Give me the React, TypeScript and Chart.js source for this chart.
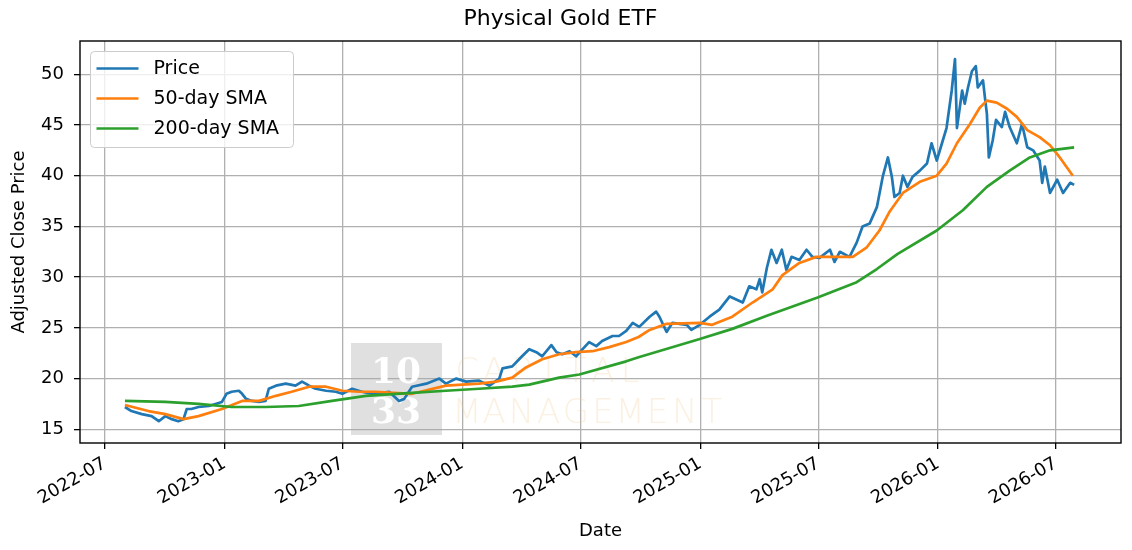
import React, { useEffect, useRef } from 'react';
import { Chart, registerables } from 'chart.js';

Chart.register(...registerables);

const chartTitle = 'Physical Gold ETF';
const xAxisTitle = 'Date';
const yAxisTitle = 'Adjusted Close Price';
const seriesLabels = ['Price', '50-day SMA', '200-day SMA'];
const seriesColors = ['#1f77b4', '#ff7f0e', '#2ca02c'];

const xTickLabels = ['2022-07', '2023-01', '2023-07', '2024-01', '2024-07', '2025-01', '2025-07', '2026-01', '2026-07'];
const yTickValues = [15, 20, 25, 30, 35, 40, 45, 50];
const xRange = ['2022-05-24', '2026-10-09'];
const yRange = [13.65, 53.28];

const watermarkBadge = ['10', '33'];
const watermarkWords = ['CAPITAL', 'MANAGEMENT'];

const priceDates = [
  '2022-08-01', '2022-08-11', '2022-08-27', '2022-09-11', '2022-09-22', '2022-10-02', '2022-10-12', '2022-10-22',
  '2022-10-30', '2022-11-04', '2022-11-11', '2022-11-22', '2022-12-08', '2022-12-18', '2022-12-28', '2023-01-04',
  '2023-01-12', '2023-01-23', '2023-01-28', '2023-02-03', '2023-02-12', '2023-02-23', '2023-03-05', '2023-03-10',
  '2023-03-21', '2023-04-05', '2023-04-20', '2023-04-30', '2023-05-11', '2023-05-21', '2023-06-06', '2023-06-21',
  '2023-07-01', '2023-07-16', '2023-07-31', '2023-08-16', '2023-09-11', '2023-09-26', '2023-10-04', '2023-10-16',
  '2023-11-07', '2023-11-27', '2023-12-07', '2023-12-23', '2024-01-07', '2024-01-27', '2024-02-12', '2024-02-27',
  '2024-03-03', '2024-03-18', '2024-04-02', '2024-04-13', '2024-04-24', '2024-05-03', '2024-05-17', '2024-05-25',
  '2024-06-03', '2024-06-14', '2024-06-24', '2024-07-04', '2024-07-14', '2024-07-25', '2024-08-03', '2024-08-19',
  '2024-08-29', '2024-09-09', '2024-09-19', '2024-09-29', '2024-10-15', '2024-10-25', '2024-10-30', '2024-11-10',
  '2024-11-19', '2024-12-11', '2024-12-18', '2024-12-31', '2025-01-15', '2025-01-30', '2025-02-15', '2025-02-25',
  '2025-03-07', '2025-03-17', '2025-03-28', '2025-04-02', '2025-04-06', '2025-04-13', '2025-04-20', '2025-04-28',
  '2025-05-06', '2025-05-13', '2025-05-21', '2025-06-02', '2025-06-13', '2025-06-22', '2025-07-03', '2025-07-19',
  '2025-07-26', '2025-08-03', '2025-08-18', '2025-08-29', '2025-09-07', '2025-09-18', '2025-09-29', '2025-10-08',
  '2025-10-16', '2025-10-22', '2025-10-26', '2025-11-03', '2025-11-08', '2025-11-15', '2025-11-23', '2025-12-04',
  '2025-12-15', '2025-12-22', '2025-12-30', '2026-01-07', '2026-01-14', '2026-01-22', '2026-01-27', '2026-01-30',
  '2026-02-07', '2026-02-11', '2026-02-16', '2026-02-22', '2026-02-28', '2026-03-03', '2026-03-11', '2026-03-14',
  '2026-03-17', '2026-03-20', '2026-03-26', '2026-03-31', '2026-04-09', '2026-04-14', '2026-04-21', '2026-05-02',
  '2026-05-10', '2026-05-18', '2026-05-27', '2026-06-06', '2026-06-10', '2026-06-14', '2026-06-22', '2026-07-03',
  '2026-07-12', '2026-07-23', '2026-07-29',
];
const priceValues = [
  17.2, 16.8, 16.5, 16.3, 15.8, 16.3, 16.0, 15.8,
  16.0, 17.0, 17.0, 17.2, 17.3, 17.5, 17.7, 18.5,
  18.7, 18.8, 18.5, 18.0, 17.8, 17.7, 17.8, 19.0,
  19.3, 19.5, 19.3, 19.7, 19.3, 19.0, 18.8, 18.7,
  18.5, 19.0, 18.7, 18.5, 18.7, 17.8, 18.0, 19.2,
  19.5, 20.0, 19.5, 20.0, 19.7, 19.8, 19.3, 20.0,
  21.0, 21.2, 22.2, 22.9, 22.6, 22.2, 23.3, 22.6,
  22.4, 22.7, 22.2, 22.9, 23.6, 23.2, 23.7, 24.2,
  24.2, 24.7, 25.5, 25.1, 26.1, 26.6, 26.1, 24.6,
  25.5, 25.3, 24.8, 25.3, 26.1, 26.8, 28.1, 27.8,
  27.5, 29.1, 28.8, 29.8, 28.5, 30.9, 32.7, 31.4,
  32.7, 30.7, 32.0, 31.7, 32.7, 32.0, 31.9, 32.7,
  31.5, 32.5, 32.0, 33.4, 35.0, 35.3, 36.9, 39.9,
  41.8, 39.9, 37.9, 38.3, 40.0, 38.9, 39.9, 40.5,
  41.2, 43.2, 41.5, 43.2, 44.7, 48.4, 51.5, 44.7,
  48.4, 47.1, 48.7, 50.3, 50.8, 48.7, 49.4, 47.7,
  46.1, 41.8, 43.5, 45.5, 44.8, 46.3, 44.8, 43.2,
  45.1, 42.8, 42.5, 41.5, 39.3, 40.9, 38.3, 39.6,
  38.3, 39.3, 39.1,
];

const sma50Dates = [
  '2022-08-01', '2022-09-06', '2022-10-02', '2022-10-30', '2022-11-22', '2022-12-28', '2023-01-28', '2023-02-23',
  '2023-03-21', '2023-04-14', '2023-05-11', '2023-06-06', '2023-07-01', '2023-07-26', '2023-08-21', '2023-10-16',
  '2023-12-07', '2024-01-27', '2024-02-22', '2024-03-18', '2024-04-08', '2024-05-03', '2024-05-29', '2024-06-24',
  '2024-07-19', '2024-08-14', '2024-09-09', '2024-09-28', '2024-10-15', '2024-11-10', '2024-12-31', '2025-01-19',
  '2025-02-19', '2025-03-22', '2025-04-22', '2025-05-07', '2025-06-02', '2025-06-28', '2025-07-23', '2025-08-23',
  '2025-09-13', '2025-10-03', '2025-10-19', '2025-11-08', '2025-12-04', '2025-12-30', '2026-01-14', '2026-01-30',
  '2026-02-19', '2026-03-06', '2026-03-17', '2026-04-01', '2026-04-17', '2026-05-02', '2026-05-18', '2026-06-06',
  '2026-06-22', '2026-07-07', '2026-07-27',
];
const sma50Values = [
  17.4, 16.8, 16.5, 16.0, 16.3, 17.0, 17.8, 17.8,
  18.3, 18.7, 19.2, 19.2, 18.8, 18.7, 18.7, 18.5,
  19.3, 19.5, 19.7, 20.1, 21.1, 21.9, 22.4, 22.6,
  22.7, 23.1, 23.6, 24.1, 24.8, 25.4, 25.5, 25.3,
  26.1, 27.5, 28.8, 30.2, 31.4, 32.0, 32.0, 32.0,
  32.9, 34.6, 36.5, 38.3, 39.4, 40.0, 41.2, 43.2,
  45.1, 46.7, 47.4, 47.2, 46.6, 45.8, 44.5, 43.8,
  43.0, 41.8, 40.0,
];

const sma200Dates = [
  '2022-08-01', '2022-10-02', '2022-11-22', '2023-01-12', '2023-03-05', '2023-04-25', '2023-06-15', '2023-08-06',
  '2023-10-16', '2023-12-07', '2024-01-27', '2024-03-18', '2024-04-13', '2024-05-29', '2024-06-29', '2024-09-09',
  '2024-09-28', '2024-12-31', '2025-02-19', '2025-04-13', '2025-06-30', '2025-08-29', '2025-09-29', '2025-10-31',
  '2025-12-30', '2026-02-08', '2026-03-17', '2026-04-21', '2026-05-22', '2026-06-22', '2026-07-29',
];
const sma200Values = [
  17.8, 17.7, 17.5, 17.2, 17.2, 17.3, 17.8, 18.3,
  18.6, 18.8, 19.0, 19.2, 19.4, 20.1, 20.4, 21.7,
  22.1, 23.9, 24.9, 26.2, 28.0, 29.5, 30.8, 32.3,
  34.6, 36.6, 38.9, 40.5, 41.8, 42.5, 42.8,
];

const toTime = (d: string) => Date.parse(d.length === 7 ? d + '-01T00:00:00Z' : d + 'T00:00:00Z');

const FONT = 'DejaVu Sans';
Chart.defaults.font.family = FONT;
Chart.defaults.color = '#000';

const decorPlugin = {
  id: 'decor',
  beforeDatasetsDraw(chart: any) {
    const ctx = chart.ctx as CanvasRenderingContext2D;
    ctx.save();
    ctx.fillStyle = 'rgba(170,170,170,0.36)';
    ctx.fillRect(351, 343, 91, 92);
    ctx.fillStyle = '#ffffff';
    ctx.font = 'bold 36px "DejaVu Serif"';
    ctx.textAlign = 'center';
    ctx.textBaseline = 'alphabetic';
    ctx.fillText(watermarkBadge[0], 396, 383);
    ctx.fillText(watermarkBadge[1], 396, 423);
    ctx.fillStyle = 'rgba(240,205,150,0.28)';
    ctx.font = '200 34px "DejaVu Sans"';
    watermarkWords.forEach((w, r) => {
      Array.from(w).forEach((ch, i) => {
        ctx.fillText(ch, 467 + i * 27.2, r === 0 ? 382 : 423);
      });
    });
    ctx.restore();
  },
  afterDatasetsDraw(chart: any) {
    const ctx = chart.ctx as CanvasRenderingContext2D;
    const a = chart.chartArea;
    ctx.save();
    ctx.strokeStyle = '#000';
    ctx.lineWidth = 1.4;
    ctx.strokeRect(a.left, a.top, a.right - a.left, a.bottom - a.top);
    ctx.restore();
  },
  afterDraw(chart: any) {
    const ctx = chart.ctx as CanvasRenderingContext2D;
    const a = chart.chartArea;
    const bx = a.left + 10.5;
    const by = a.top + 10.5;
    ctx.save();
    ctx.beginPath();
    (ctx as any).roundRect(bx, by, 203, 96, 4);
    ctx.fillStyle = 'rgba(255,255,255,0.8)';
    ctx.fill();
    ctx.strokeStyle = '#cccccc';
    ctx.lineWidth = 1;
    ctx.stroke();
    chart.data.datasets.forEach((ds: any, i: number) => {
      const y = by + 17 + i * 30;
      ctx.beginPath();
      ctx.moveTo(bx + 6, y);
      ctx.lineTo(bx + 48, y);
      ctx.strokeStyle = ds.borderColor;
      ctx.lineWidth = 2.7;
      ctx.stroke();
      ctx.fillStyle = '#000';
      ctx.font = `19px "${FONT}"`;
      ctx.textAlign = 'left';
      ctx.textBaseline = 'middle';
      ctx.fillText(ds.label, bx + 63, y + 1);
    });
    ctx.restore();
  },
};

function makeSeries(dates: string[], values: number[]) {
  return dates.map((d, i) => ({ x: toTime(d), y: values[i] }));
}

export default function App() {
  const ref = useRef<HTMLCanvasElement>(null);
  useEffect(() => {
    document.body.style.margin = '0';
    const lineBase = { pointRadius: 0, borderWidth: 2.7, tension: 0, fill: false, borderJoinStyle: 'round' as const };
    const chart = new Chart(ref.current as HTMLCanvasElement, {
      type: 'line',
      data: {
        datasets: [
          { ...lineBase, label: seriesLabels[0], data: makeSeries(priceDates, priceValues), borderColor: seriesColors[0], order: 3 },
          { ...lineBase, label: seriesLabels[1], data: makeSeries(sma50Dates, sma50Values), borderColor: seriesColors[1], order: 2 },
          { ...lineBase, label: seriesLabels[2], data: makeSeries(sma200Dates, sma200Values), borderColor: seriesColors[2], order: 1 },
        ],
      },
      options: {
        responsive: false,
        animation: false,
        events: [],
        layout: { padding: { left: 0, right: 11, top: 0, bottom: 0 } },
        plugins: {
          legend: { display: false },
          tooltip: { enabled: false },
          title: {
            display: true,
            text: chartTitle,
            color: '#000',
            font: { size: 22, weight: 'normal', family: FONT },
            padding: { top: 6, bottom: 8.6 },
          },
        },
        scales: {
          x: {
            type: 'linear',
            min: toTime(xRange[0]),
            max: toTime(xRange[1]),
            afterBuildTicks: (s: any) => {
              s.ticks = xTickLabels.map((l) => ({ value: toTime(l) }));
            },
            afterFit: (s: any) => {
              s.height = 107;
              s.paddingLeft = 0;
              s.paddingRight = 0;
            },
            ticks: {
              autoSkip: false,
              minRotation: 30,
              maxRotation: 30,
              padding: 4,
              color: '#000',
              font: { size: 18, family: FONT },
              callback: (_v: any, i: number) => xTickLabels[i],
            },
            grid: { color: '#b0b0b0', lineWidth: 1.3, tickColor: '#000', tickLength: 6, tickWidth: 1.3 },
            border: { display: false },
            title: { display: true, text: xAxisTitle, color: '#000', font: { size: 18, family: FONT }, padding: { top: 0, bottom: 8 } },
          },
          y: {
            type: 'linear',
            min: yRange[0],
            max: yRange[1],
            afterBuildTicks: (s: any) => {
              s.ticks = yTickValues.map((v) => ({ value: v }));
            },
            afterFit: (s: any) => {
              s.width = 80;
              s.paddingTop = 0;
              s.paddingBottom = 0;
            },
            ticks: {
              padding: 10,
              color: '#000',
              font: { size: 18, family: FONT },
              callback: (v: any) => String(v),
            },
            grid: { color: '#b0b0b0', lineWidth: 1.3, tickColor: '#000', tickLength: 6, tickWidth: 1.3 },
            border: { display: false },
            title: { display: true, text: yAxisTitle, color: '#000', font: { size: 18, family: FONT }, padding: { top: 9, bottom: 0 } },
          },
        },
      },
      plugins: [decorPlugin],
    } as any);
    return () => chart.destroy();
  }, []);
  return (
    <div style={{ width: 1132, height: 550, background: '#fff' }}>
      <canvas ref={ref} width={1132} height={550} style={{ display: 'block' }} />
    </div>
  );
}
